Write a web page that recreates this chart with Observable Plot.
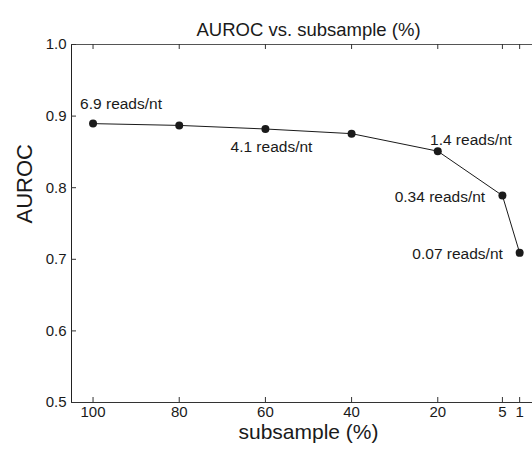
<!DOCTYPE html>
<html>
<head>
<meta charset="utf-8">
<script src="https://cdn.jsdelivr.net/npm/d3@7"></script>
<script src="https://cdn.jsdelivr.net/npm/@observablehq/plot@0.6"></script>
<style>
  html, body { margin: 0; padding: 0; background: white; }
  #wrap { width: 532px; height: 449px; overflow: hidden; }
  #wrap svg { max-width: none !important; width: 545px; height: 449px; }
</style>
</head>
<body>
<div id="wrap"></div>
<script>
// ---- data ----
const subsample = [100, 80, 60, 40, 20, 5, 1];
const auroc = [0.8895, 0.887, 0.882, 0.8755, 0.851, 0.789, 0.709];

const xTicks = [100, 80, 60, 40, 20, 5, 1];
const yTicks = [0.5, 0.6, 0.7, 0.8, 0.9, 1.0];
const xDomain = [105, -5];
const yDomain = [0.5, 1.0];

const labelText = ["6.9 reads/nt", "4.1 reads/nt", "1.4 reads/nt", "0.34 reads/nt", "0.07 reads/nt"];
const labelX = [103, 68.1, 21.8, 30, 25.9];
const labelY = [0.917, 0.857, 0.866, 0.787, 0.707];

const titleText = "AUROC vs. subsample (%)";
const xLabel = "subsample (%)";
const yLabel = "AUROC";

// ---- layout ----
const W = 545, H = 449, mL = 71, mR = 0, mT = 44, mB = 47;
const frameW = W - mL - mR, frameH = H - mT - mB;
const tick = 5;
const ink = "#1a1a1a";

const points = subsample.map((x, i) => ({x, y: auroc[i]}));
const labels = labelText.map((t, i) => ({t, x: labelX[i], y: labelY[i]}));

const chart = Plot.plot({
  width: W, height: H,
  marginLeft: mL, marginRight: mR, marginTop: mT, marginBottom: mB,
  style: {fontFamily: "'Liberation Sans', Arial, Helvetica, sans-serif", fontSize: "15px", color: ink, background: "white", maxWidth: "none"},
  x: {type: "linear", domain: xDomain},
  y: {type: "linear", domain: yDomain},
  marks: [
    // frame lines
    Plot.ruleY([yDomain[0]], {stroke: "#333"}),
    Plot.ruleY([yDomain[1]], {stroke: "#555"}),
    Plot.ruleX([xDomain[0]], {stroke: "#222"}),
    // inward ticks
    Plot.ruleX(xTicks, {insetTop: frameH - tick, stroke: "#333"}),
    Plot.ruleX(xTicks, {insetBottom: frameH - tick, stroke: "#333"}),
    Plot.ruleY(yTicks, {insetRight: frameW - tick, stroke: "#333"}),
    // tick labels
    Plot.axisX(xTicks, {tickSize: 0, tickPadding: 4, label: null, fontSize: 15}),
    Plot.axisY(yTicks, {tickSize: 0, tickPadding: 5, label: null, fontSize: 15, tickFormat: d3.format(".1f")}),
    // data
    Plot.line(points, {x: "x", y: "y", stroke: ink, strokeWidth: 1}),
    Plot.dot(points, {x: "x", y: "y", r: 4, fill: ink, stroke: "none"}),
    Plot.text(labels, {x: "x", y: "y", text: "t", textAnchor: "start", fontSize: 15.5, fill: ink}),
    // titles
    Plot.text([titleText], {frameAnchor: "top", dy: -22, fontSize: 18.5, fill: ink}),
    Plot.text([xLabel], {frameAnchor: "bottom", dy: 36.5, fontSize: 21, fill: ink}),
    Plot.text([yLabel], {frameAnchor: "left", dx: -46.5, rotate: -90, fontSize: 22, fill: ink})
  ]
});
document.getElementById("wrap").appendChild(chart);
</script>
</body>
</html>
